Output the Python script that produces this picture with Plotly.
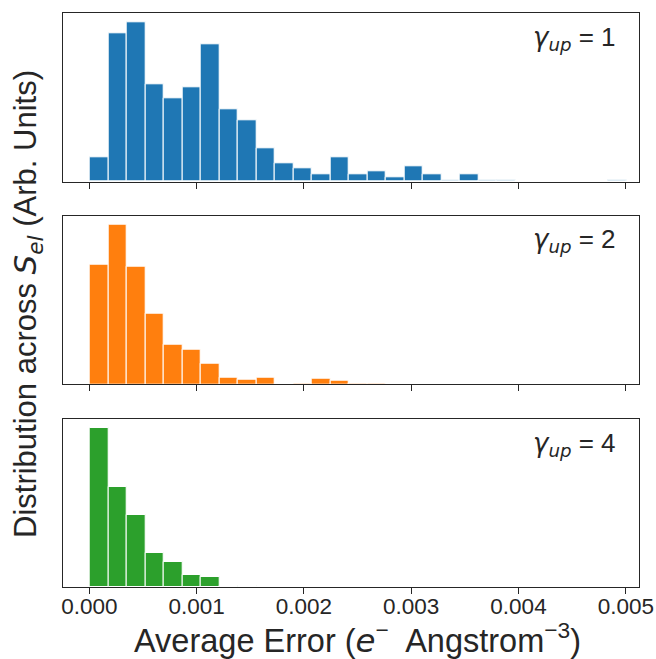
import numpy as np
import plotly.graph_objects as go

# ---- data (relative histogram heights, arbitrary units) ----
bin_start = 0.0000065
bin_end = 0.005005
n_bins = 29

hist_gamma1 = [73, 445, 478, 293, 250, 284, 411, 217, 183, 99, 56, 39, 23, 73, 23,
               31, 14, 47, 23, 5, 23, 5, 5, 0, 0, 0, 0, 0, 5]
hist_gamma2 = [358, 479, 352, 211, 118, 104, 62, 20, 15, 20, 0, 3, 16, 10, 3,
               3, 0, 0, 0, 0, 0, 0, 0, 0, 0, 0, 0, 0, 0]
hist_gamma4 = [480, 301, 219, 102, 76, 37, 30, 4, 4, 1, 0, 0, 0, 1, 0,
               0, 0, 0, 0, 0, 0, 0, 0, 0, 0, 0, 0, 0, 0]

labels = ["1", "2", "4"]
colors = ["#1f77b4", "#ff7f0e", "#2ca02c"]
tick_vals = [0.000, 0.001, 0.002, 0.003, 0.004, 0.005]
tick_text = ["0.000", "0.001", "0.002", "0.003", "0.004", "0.005"]

edges = np.linspace(bin_start, bin_end, n_bins + 1)
centers = (edges[:-1] + edges[1:]) / 2
width = edges[1] - edges[0]

W, H = 656, 659
def px(p):
    return p / W
def py(p):
    return 1 - p / H

x_dom = [px(62.7), px(639)]
panels = [(13.3, 181.7), (215.7, 384.3), (419.0, 587.3)]

FONT = "Liberation Sans, Arial, sans-serif"
MATH = "DejaVu Sans"
SPINE = "#262626"

fig = go.Figure()
layout = dict(
    template="none",
    width=W, height=H,
    margin=dict(l=0, r=0, t=0, b=0, autoexpand=False),
    paper_bgcolor="white", plot_bgcolor="white",
    showlegend=False, bargap=0,
    font=dict(family=FONT, color=SPINE),
)
annotations = []
for i, (vals, lab, col) in enumerate(zip([hist_gamma1, hist_gamma2, hist_gamma4], labels, colors)):
    xa = "x" if i == 0 else f"x{i+1}"
    ya = "y" if i == 0 else f"y{i+1}"
    fig.add_trace(go.Bar(
        x=centers, y=vals, width=width, xaxis=xa, yaxis=ya,
        marker=dict(color=col, line=dict(color="white", width=1)),
    ))
    top, bot = panels[i]
    xkey = "xaxis" if i == 0 else f"xaxis{i+1}"
    ykey = "yaxis" if i == 0 else f"yaxis{i+1}"
    layout[xkey] = dict(
        domain=x_dom, anchor=ya, range=[-0.000248, 0.005123], automargin=False,
        showline=True, linecolor=SPINE, linewidth=1.3, mirror=True,
        ticks="outside", ticklen=6, tickwidth=1.3, tickcolor=SPINE,
        tickvals=tick_vals, ticktext=tick_text, ticklabelstandoff=-7,
        showticklabels=(i == 2), showgrid=False, zeroline=False,
        tickfont=dict(size=22.5, family=FONT, color=SPINE),
    )
    if i > 0:
        layout[xkey]["matches"] = "x"
    layout[ykey] = dict(
        domain=[py(bot), py(top)], anchor=xa, range=[0, max(vals) * 1.055],
        automargin=False,
        showline=True, linecolor=SPINE, linewidth=1.3, mirror=True,
        ticks="", showticklabels=False, showgrid=False, zeroline=False,
    )
    annotations.append(dict(
        xref="paper", yref="paper", x=px(618), y=py(top + 25),
        xanchor="right", yanchor="middle", showarrow=False,
        text=(f"<span style=\"font-family:{MATH}\"><i>γ</i><sub><i>up</i></sub></span>"
              f"&nbsp;= {lab}"),
        font=dict(size=26, family=FONT, color=SPINE),
    ))

annotations.append(dict(
    xref="paper", yref="paper", x=px(357), y=py(638),
    xanchor="center", yanchor="middle", showarrow=False,
    text=(f"Average Error (<span style=\"font-family:{MATH}\"><i>e</i></span>"
          "<sup>−</sup>&nbsp; Angstrom<sup>−3</sup>)"),
    font=dict(size=32.5, family=FONT, color=SPINE),
))
annotations.append(dict(
    xref="paper", yref="paper", x=px(28), y=py(304),
    xanchor="center", yanchor="middle", showarrow=False, textangle=-90,
    text=(f"Distribution across <span style=\"font-family:{MATH}\"><i>S</i>"
          "<sub><i>el</i></sub></span> (Arb. Units)"),
    font=dict(size=31, family=FONT, color=SPINE),
))
layout["annotations"] = annotations
fig.update_layout(**layout)
fig.write_html(
    "out.html",
    config={"displayModeBar": False},
    post_script="document.body.style.margin='0';document.body.style.overflow='hidden';",
)
